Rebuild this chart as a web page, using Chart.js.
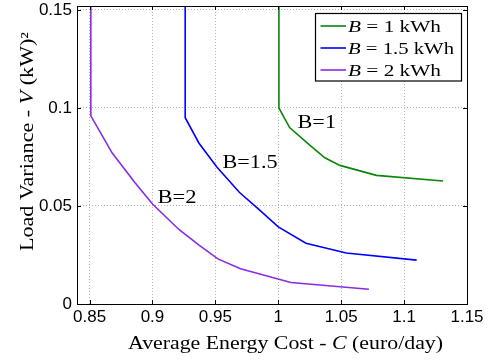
<!DOCTYPE html>
<html><head><meta charset="utf-8">
<script src="https://cdn.jsdelivr.net/npm/chart.js@4.4.1/dist/chart.umd.min.js"></script>
<style>html,body{margin:0;padding:0;background:#fff;}</style>
</head><body>
<canvas id="c" width="491" height="360"></canvas>
<script>
// ---- data ----
const seriesLabels = ['B = 1 kWh', 'B = 1.5 kWh', 'B = 2 kWh'];
const seriesColors = ['#0a850a', '#0000ff', '#8a2be2'];

const b1Cost = [1.0005, 1.0005, 1.009, 1.025, 1.037, 1.049, 1.078, 1.131];
const b1Var  = [0.152, 0.100, 0.090, 0.081, 0.0746, 0.0707, 0.0656, 0.0627];

const b15Cost = [0.926, 0.926, 0.937, 0.951, 0.969, 0.985, 1.000, 1.022, 1.054, 1.110];
const b15Var  = [0.152, 0.095, 0.082, 0.070, 0.057, 0.048, 0.0393, 0.031, 0.026, 0.0224];

const b2Cost = [0.851, 0.851, 0.868, 0.886, 0.900, 0.921, 0.937, 0.952, 0.970, 1.010, 1.072];
const b2Var  = [0.152, 0.096, 0.077, 0.062, 0.051, 0.038, 0.030, 0.023, 0.018, 0.011, 0.0075];

const xTickValues = [0.85, 0.9, 0.95, 1, 1.05, 1.1, 1.15];
const xTickLabels = ['0.85', '0.9', '0.95', '1', '1.05', '1.1', '1.15'];
const yTickValues = [0, 0.05, 0.1, 0.15];
const yTickLabels = ['0', '0.05', '0.1', '0.15'];

const curveNames = ['B=1', 'B=1.5', 'B=2'];
const curveNameCost = [1.0153, 0.9557, 0.904];
const curveNameVar  = [0.0900, 0.0692, 0.0514];

const xMin = 0.84, xMax = 1.15, yMin = 0, yMax = 0.152;

function zip(xs, ys) { return xs.map((x, i) => ({ x: x, y: ys[i] })); }

const SERIF = '"Liberation Serif", "Times New Roman", serif';

function drawRich(ctx, segs, x, y, size, align, targetWidth) {
  ctx.save();
  const widths = segs.map(s => {
    ctx.font = (s.it ? 'italic ' : '') + size + 'px ' + SERIF;
    return ctx.measureText(s.t).width;
  });
  const raw = widths.reduce((a, b) => a + b, 0);
  const stretch = targetWidth ? targetWidth / raw : 1;
  const total = raw * stretch;
  const start = align === 'center' ? x - total / 2 : x;
  ctx.translate(start, y);
  ctx.scale(stretch, 1);
  ctx.fillStyle = '#000';
  ctx.textBaseline = 'alphabetic';
  ctx.textAlign = 'left';
  let cx = 0;
  segs.forEach((s, i) => {
    ctx.font = (s.it ? 'italic ' : '') + size + 'px ' + SERIF;
    ctx.fillText(s.t, cx, 0);
    cx += widths[i];
  });
  ctx.restore();
}

const decor = {
  id: 'decor',
  afterDraw(chart) {
    const ctx = chart.ctx;
    const a = chart.chartArea;
    const xs = chart.scales.x, ys = chart.scales.y;
    ctx.save();
    // box
    ctx.strokeStyle = '#000';
    ctx.lineWidth = 1;
    ctx.setLineDash([]);
    ctx.strokeRect(Math.round(a.left) + 0.5, Math.round(a.top) + 0.5,
                   Math.round(a.right - a.left), Math.round(a.bottom - a.top));
    // inward ticks
    const tl = 4;
    ctx.beginPath();
    xTickValues.forEach(v => {
      const px = Math.round(xs.getPixelForValue(v)) + 0.5;
      ctx.moveTo(px, a.bottom); ctx.lineTo(px, a.bottom - tl);
      ctx.moveTo(px, a.top); ctx.lineTo(px, a.top + tl);
    });
    yTickValues.forEach(v => {
      const py = Math.round(ys.getPixelForValue(v)) + 0.5;
      ctx.moveTo(a.left, py); ctx.lineTo(a.left + tl, py);
      ctx.moveTo(a.right, py); ctx.lineTo(a.right - tl, py);
    });
    ctx.stroke();

    // curve annotations
    curveNames.forEach((n, i) => {
      const px = xs.getPixelForValue(curveNameCost[i]);
      const py = ys.getPixelForValue(curveNameVar[i]);
      drawRich(ctx, [{ t: n }], px, py, 18, 'left', [38.5, 55, 39][i]);
    });

    // legend
    const lx = 315.5, ly = 13.5, lw = 146, lh = 67.5;
    ctx.fillStyle = '#fff';
    ctx.fillRect(lx, ly, lw, lh);
    ctx.strokeStyle = '#000';
    ctx.lineWidth = 1.2;
    ctx.strokeRect(lx, ly, lw, lh);
    const rowY = [26, 48, 70];
    const widthsT = [93, 106, 93];
    chart.data.datasets.forEach((ds, i) => {
      ctx.strokeStyle = ds.borderColor;
      ctx.lineWidth = 1.6;
      ctx.beginPath();
      ctx.moveTo(320.5, rowY[i]); ctx.lineTo(346, rowY[i]);
      ctx.stroke();
      const rest = ds.label.substring(1);
      drawRich(ctx, [{ t: 'B', it: true }, { t: rest }], 348, rowY[i] + 5.5, 16.5, 'left', widthsT[i]);
    });

    // axis titles
    drawRich(ctx, [{ t: 'Average Energy Cost - ' }, { t: 'C', it: true }, { t: ' (euro/day)' }],
             285.5, 348.5, 18, 'center', 315);
    ctx.save();
    ctx.translate(32.5, 141.5);
    ctx.rotate(-Math.PI / 2);
    drawRich(ctx, [{ t: 'Load Variance - ' }, { t: 'V', it: true }, { t: ' (kW)²' }],
             0, 0, 18, 'center', 219);
    ctx.restore();
    ctx.restore();
  }
};

const mkDs = (label, color, xs, ys) => ({
  label: label, data: zip(xs, ys), borderColor: color, backgroundColor: color,
  showLine: true, pointRadius: 0, borderWidth: 1.6, tension: 0, fill: false
});

new Chart(document.getElementById('c'), {
  type: 'scatter',
  data: {
    datasets: [
      mkDs(seriesLabels[0], seriesColors[0], b1Cost, b1Var),
      mkDs(seriesLabels[1], seriesColors[1], b15Cost, b15Var),
      mkDs(seriesLabels[2], seriesColors[2], b2Cost, b2Var)
    ]
  },
  options: {
    responsive: false,
    animation: false,
    devicePixelRatio: 1,
    layout: { padding: { left: 0, top: 6, right: 24, bottom: 0 } },
    plugins: { legend: { display: false }, tooltip: { enabled: false } },
    scales: {
      x: {
        type: 'linear', min: xMin, max: xMax,
        afterBuildTicks: s => { s.ticks = xTickValues.map(v => ({ value: v })); },
        afterFit: s => { s.height = 56; s.paddingLeft = 0; s.paddingRight = 0; },
        ticks: {
          callback: (v, i) => xTickLabels[i],
          color: '#000', padding: 3, maxRotation: 0, autoSkip: false,
          font: { family: '"Liberation Sans", Arial, sans-serif', size: 17 }
        },
        grid: { color: '#b4b4b4', lineWidth: 1, drawTicks: false },
        border: { display: false, dash: [1, 2] }
      },
      y: {
        type: 'linear', min: yMin, max: yMax,
        afterBuildTicks: s => { s.ticks = yTickValues.map(v => ({ value: v })); },
        afterFit: s => { s.width = 77; s.paddingTop = 0; s.paddingBottom = 0; },
        ticks: {
          callback: (v, i) => yTickLabels[i],
          color: '#000', padding: 5, autoSkip: false,
          font: { family: '"Liberation Sans", Arial, sans-serif', size: 17 }
        },
        grid: { color: '#b4b4b4', lineWidth: 1, drawTicks: false },
        border: { display: false, dash: [1, 2] }
      }
    }
  },
  plugins: [decor]
});
</script>
</body></html>
